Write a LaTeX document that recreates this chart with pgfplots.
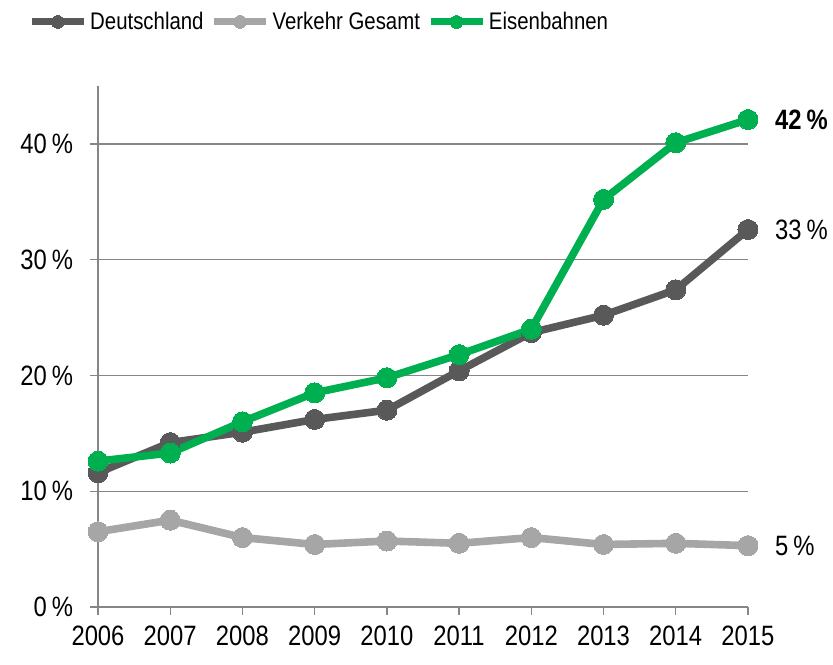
\documentclass[border=0pt]{standalone}
\usepackage{pgfplots}
\pgfplotsset{compat=1.18}
\usepackage{fontspec}
\setmainfont{Liberation Sans}[FakeStretch=0.85]
\usetikzlibrary{calc}
\definecolor{cDe}{RGB}{89,89,89}
\definecolor{cVe}{RGB}{166,166,166}
\definecolor{cEi}{RGB}{0,176,80}
\definecolor{gridgray}{RGB}{134,134,134}
\begin{document}
\begin{tikzpicture}
\begin{axis}[
  scale only axis, width=325pt, height=260.5pt,
  xmin=2006, xmax=2015, ymin=0, ymax=45,
  xtick={2006,...,2015}, ytick={0,10,20,30,40},
  axis x line*=bottom, axis y line*=left,
  axis line style={gridgray, line width=0.7pt},
  ymajorgrids, grid style={gridgray, line width=0.7pt},
  tick align=outside, major tick length=4pt,
  tick style={gridgray, line width=0.7pt},
  /pgf/number format/assume math mode=true,
  xticklabel style={/pgf/number format/1000 sep={}, yshift=-2pt},
  yticklabel={\pgfmathprintnumber{\tick}\kern2.5pt\%},
  yticklabel style={xshift=-5pt},
  ticklabel style={font=\fontsize{14}{16}\selectfont},
  clip=false,
  legend columns=3,
  legend style={draw=none, fill=none, at={(-0.108,1.123)}, anchor=west,
    font=\fontsize{12}{14}\selectfont, inner sep=0pt,
    nodes={inner sep=1.5pt},
    /tikz/every even column/.append style={column sep=2pt}},
  legend image code/.code={\draw[#1, line width=3.5pt, mark size=3.2pt, mark repeat=2, mark phase=2] plot coordinates {(0pt,0pt) (13pt,0pt) (26pt,0pt)};},
  every axis plot/.append style={line width=3.8pt, mark=*, mark size=5pt},
]
\addplot[cDe, mark options={fill=cDe, draw=cDe, line width=0pt}] coordinates {
(2006,11.6) (2007,14.2) (2008,15.1) (2009,16.2) (2010,17.0) (2011,20.4) (2012,23.7) (2013,25.2) (2014,27.4) (2015,32.6)};
\addlegendentry{Deutschland}
\addplot[cVe, mark options={fill=cVe, draw=cVe, line width=0pt}] coordinates {
(2006,6.5) (2007,7.5) (2008,6.0) (2009,5.4) (2010,5.7) (2011,5.5) (2012,6.0) (2013,5.4) (2014,5.5) (2015,5.3)};
\addlegendentry{Verkehr Gesamt}
\addplot[cEi, mark options={fill=cEi, draw=cEi, line width=0pt}] coordinates {
(2006,12.6) (2007,13.3) (2008,16.0) (2009,18.5) (2010,19.8) (2011,21.8) (2012,24.0) (2013,35.2) (2014,40.1) (2015,42.1)};
\addlegendentry{Eisenbahnen}
\node[anchor=west, font=\fontsize{14}{16}\selectfont\bfseries, xshift=10pt] at (axis cs:2015,42.1) {42\kern2.5pt\%};
\node[anchor=west, font=\fontsize{14}{16}\selectfont, xshift=10pt] at (axis cs:2015,32.6) {33\kern2.5pt\%};
\node[anchor=west, font=\fontsize{14}{16}\selectfont, xshift=10pt] at (axis cs:2015,5.3) {5\kern2.5pt\%};
\end{axis}
\pgfresetboundingbox
\path[use as bounding box] ($(current axis.south west)+(-49pt,-28.5pt)$) rectangle ++(416.5pt,332pt);
\end{tikzpicture}
\end{document}
